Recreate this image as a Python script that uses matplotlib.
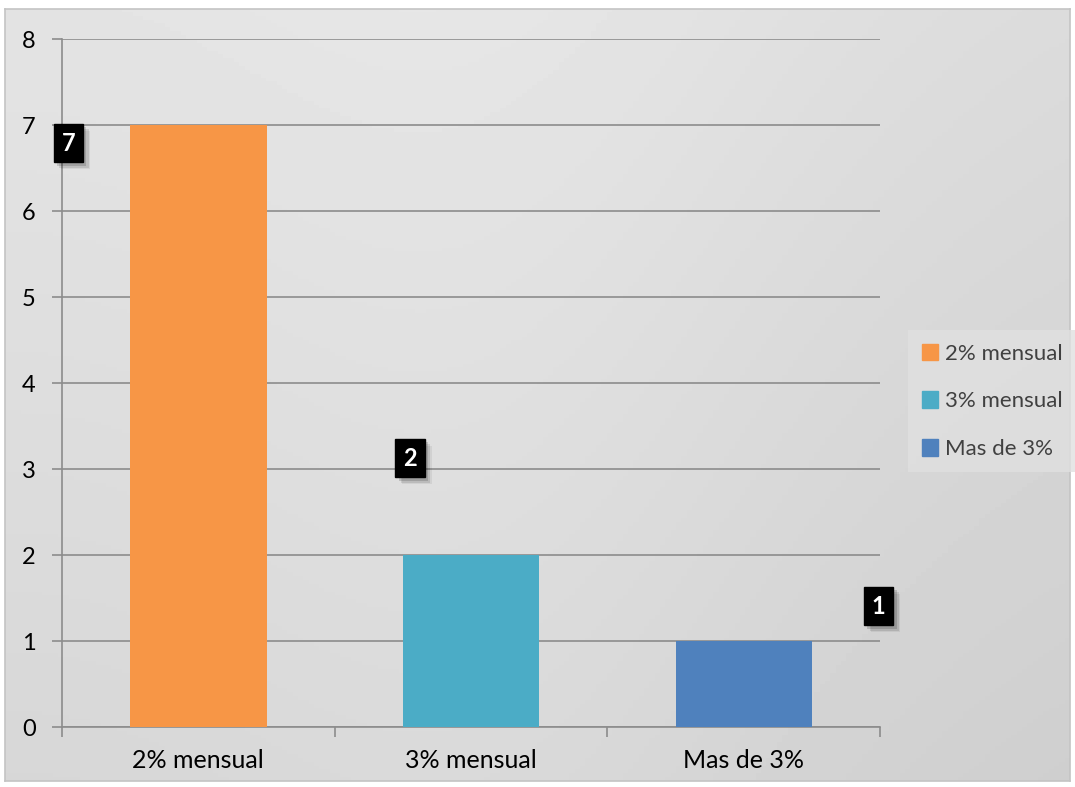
import matplotlib.pyplot as plt
import matplotlib.patheffects as pe
import numpy as np

# data
categories = ["2% mensual", "3% mensual", "Mas de 3%"]
values = [7, 2, 1]
colors = ["#F79646", "#4BACC6", "#4F81BD"]
# where the data labels sit, offset from the top of each bar (pixels)
label_offsets = [(-130, -18), (-61, 97), (135, 35)]

plt.rcParams['font.family'] = ['Lato', 'DejaVu Sans']

fig = plt.figure(figsize=(10.75, 7.87), dpi=100)
fig.patch.set_facecolor("white")

# gray gradient background behind the chart
bg = fig.add_axes([0.005, 0.007, 0.99, 0.981])
gx = np.linspace(0, 1, 200)
gy = np.linspace(0, 1, 200)
GX, GY = np.meshgrid(gx, gy)
grad = 0.89 - 0.05 * GY - 0.03 * GX + 0.025 * np.exp(-((GX - 0.45) ** 2) / 0.1)
bg.imshow(grad, cmap="gray", vmin=0, vmax=1, aspect="auto", extent=[0, 1, 0, 1])
bg.set_xticks([])
bg.set_yticks([])
for s in bg.spines.values():
    s.set_color("#c4c4c4")
    s.set_linewidth(1.2)

ax = fig.add_axes([0.0577, 0.0762, 0.7609, 0.8742])
ax.patch.set_alpha(0)
x = np.arange(len(categories))
bars = ax.bar(x, values, width=0.5, color=colors, zorder=3)
for b in bars:
    b.set_path_effects([pe.SimplePatchShadow(offset=(0, 0), shadow_rgbFace="#888888", alpha=0.15), pe.Normal()])

ax.set_xlim(-0.5, 2.5)
ax.set_ylim(0, 8)
ax.set_yticks(range(0, 9))
ax.yaxis.grid(True, color="#8c8c8c", linewidth=1.2, zorder=1)
ax.set_axisbelow(True)
ax.set_xticks(x)
ax.set_xticklabels(categories)
ax.set_xticks([-0.5, 0.5, 1.5, 2.5], minor=True)
ax.tick_params(axis="x", which="major", length=0, pad=16, labelsize=18)
ax.tick_params(axis="x", which="minor", length=7, color="#8c8c8c", width=1.2)
ax.tick_params(axis="y", length=7, color="#8c8c8c", width=1.2, labelsize=17, pad=12)
for side in ["top", "right"]:
    ax.spines[side].set_visible(False)
for side in ["left", "bottom"]:
    ax.spines[side].set_color("#8c8c8c")
    ax.spines[side].set_linewidth(1.2)

# data labels in black boxes with a soft shadow
for i, v in enumerate(values):
    dx, dy = label_offsets[i]
    t = ax.annotate(str(v), xy=(i, v), xytext=(dx * 0.72, dy * 0.72),
                    textcoords="offset points", ha="center", va="center",
                    color="white", fontsize=17, fontweight="bold", zorder=5,
                    bbox=dict(boxstyle="square,pad=0.33", facecolor="black", edgecolor="black"))
    t.get_bbox_patch().set_path_effects([
        pe.SimplePatchShadow(offset=(5, -5), shadow_rgbFace="black", alpha=0.06),
        pe.SimplePatchShadow(offset=(4, -4), shadow_rgbFace="black", alpha=0.1),
        pe.SimplePatchShadow(offset=(2.5, -2.5), shadow_rgbFace="black", alpha=0.15),
        pe.Normal()])

# legend
handles = [plt.Rectangle((0, 0), 1, 1, color=c) for c in colors]
leg = fig.legend(handles, categories, loc="center left", bbox_to_anchor=(0.845, 0.49),
                 fontsize=16, frameon=True, handlelength=0.75, handleheight=0.75,
                 handletextpad=0.3, labelspacing=1.25, borderpad=0.6, borderaxespad=0,
                 fancybox=False)
leg.get_frame().set_facecolor("#e0e0e0")
leg.get_frame().set_edgecolor("none")
for txt in leg.get_texts():
    txt.set_color("#404040")

fig.savefig("out.png", dpi=100)
